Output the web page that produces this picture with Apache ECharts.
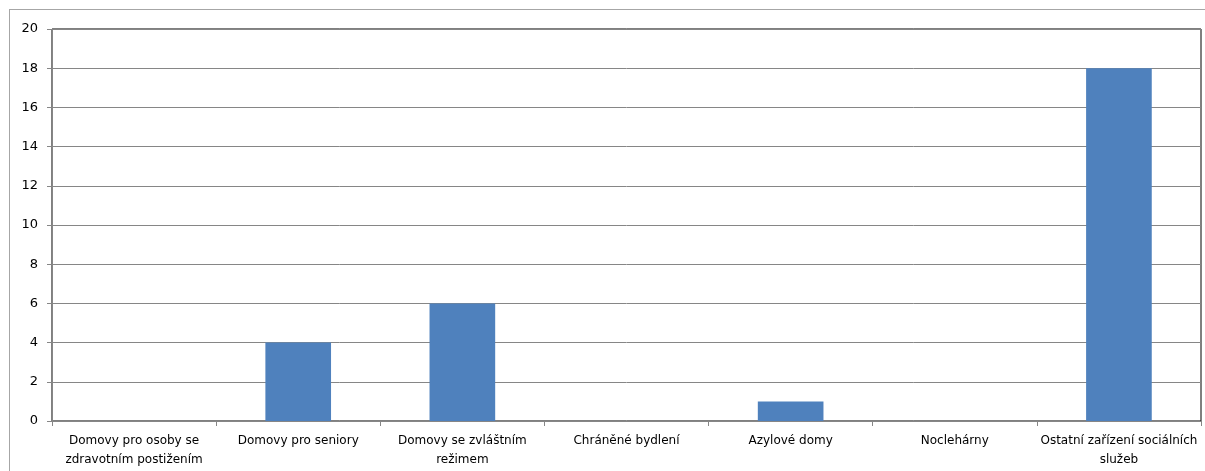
<!DOCTYPE html>
<html>
<head>
<meta charset="utf-8">
<script src="https://cdn.jsdelivr.net/npm/echarts@6/dist/echarts.min.js"></script>
<style>
  html, body { margin: 0; padding: 0; background: #ffffff; }
  .frame {
    position: absolute;
    left: 9px; top: 9px;
    width: 1200px; height: 464px;
    border: 1px solid #a6a6a6;
  }
  #myChart { position: absolute; left: 0; top: 0; width: 1205px; height: 471px; }
</style>
</head>
<body>
<div class="frame"></div>
<div id="myChart"></div>
<script>
// kategorie a hodnoty
const categories = [
  'Domovy pro osoby se zdravotním postižením',
  'Domovy pro seniory',
  'Domovy se zvláštním režimem',
  'Chráněné bydlení',
  'Azylové domy',
  'Noclehárny',
  'Ostatní zařízení sociálních služeb'
];
const values = [0, 4, 6, 0, 1, 0, 18];
const yTicks = { min: 0, max: 20, interval: 2 };

const labelFont = '12px "DejaVu Sans"';
const ctx = document.createElement('canvas').getContext('2d');
ctx.font = labelFont;

// zalomení popisku podle skutečné šířky textu
function wrapLabel(text, maxW) {
  const words = text.split(' ');
  const lines = [];
  let cur = '';
  words.forEach(w => {
    const test = cur ? cur + ' ' + w : w;
    if (cur && ctx.measureText(test).width > maxW) {
      lines.push(cur);
      cur = w;
    } else {
      cur = test;
    }
  });
  if (cur) lines.push(cur);
  return lines.join('\n');
}

const myChart = echarts.init(document.getElementById('myChart'));
myChart.setOption({
  animation: false,
  textStyle: { fontFamily: 'DejaVu Sans' },
  grid: {
    left: 52, right: 4, top: 29, bottom: 50,
    outerBoundsMode: 'none',
    containLabel: false,
    show: true, borderColor: '#000', borderWidth: 1
  },
  xAxis: {
    type: 'category',
    data: categories,
    axisLine: { lineStyle: { color: '#868686' } },
    axisTick: { show: true, length: 5, lineStyle: { color: '#868686' } },
    axisLabel: {
      interval: 0,
      color: '#000',
      fontSize: 12,
      lineHeight: 19,
      margin: 10,
      formatter: v => wrapLabel(v, 168)
    }
  },
  yAxis: {
    type: 'value',
    min: yTicks.min,
    max: yTicks.max,
    interval: yTicks.interval,
    axisLine: { show: true, lineStyle: { color: '#868686' } },
    axisTick: { show: true, length: 5, lineStyle: { color: '#868686' } },
    axisLabel: { color: '#000', fontSize: 13, margin: 14 },
    splitLine: { lineStyle: { color: '#868686' } }
  },
  series: [{
    type: 'bar',
    data: values,
    barWidth: '40%',
    itemStyle: { color: '#4F81BD' }
  }]
});
</script>
</body>
</html>
